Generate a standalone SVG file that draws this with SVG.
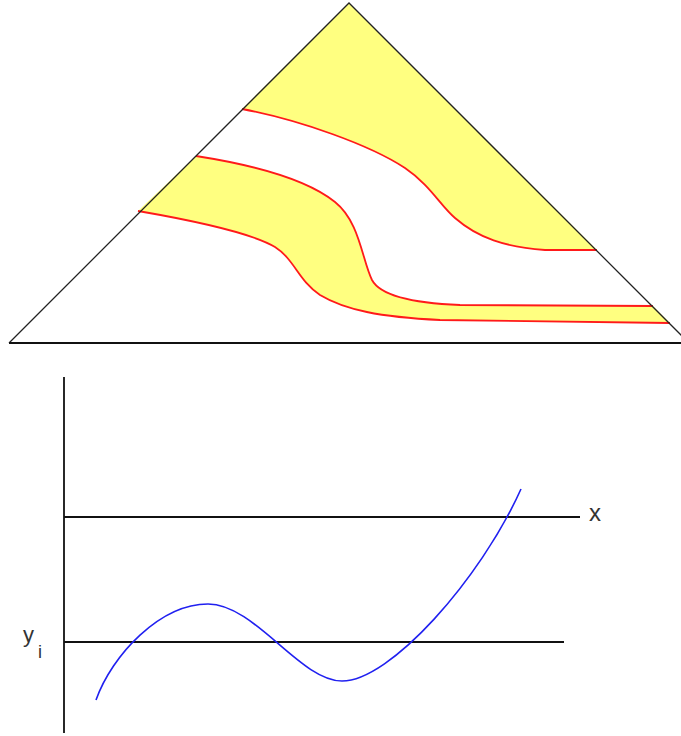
<svg xmlns="http://www.w3.org/2000/svg" width="681" height="736" viewBox="0 0 681 736">
<style>
.fill{fill:#FFFF80;stroke:none}
.red{fill:none;stroke:#FF1A1A;stroke-width:1.8}
.edge{fill:none;stroke:#222;stroke-width:1.3}
.axis{fill:none;stroke:#111;stroke-width:1.8}
.curve{fill:none;stroke:#2020F0;stroke-width:1.6}
.lbl{font-family:"Liberation Sans",Arial,sans-serif;fill:#333}
</style>
<rect width="681" height="736" fill="#fff"/>
<g id="ternary">
<path class="fill" d="M349,3 L242,109 C300,120 370,145 405,168 C430,185 440,205 455,218 C478,238 505,247 545,250 L597,250 Z"/>
<path class="fill" d="M138,211 C190,220 250,232 275,247 C295,260 298,280 320,295 C345,310 380,317 440,320 L670,323 L653,306 L460,305 C410,303 380,295 372,280 C362,260 360,222 335,202 C310,182 260,166 196,156 Z"/>
<path class="red" d="M242,109 C300,120 370,145 405,168 C430,185 440,205 455,218 C478,238 505,247 545,250 L597,250"/>
<path class="red" d="M196,156 C260,166 310,182 335,202 C360,222 362,260 372,280 C380,295 410,303 460,305 L653,306"/>
<path class="red" d="M138,211 C190,220 250,232 275,247 C295,260 298,280 320,295 C345,310 380,317 440,320 L670,323"/>
<path class="edge" d="M9,343 L349,3 L692,346"/>
<line class="axis" x1="9" y1="343" x2="681" y2="343"/>
</g>
<g id="plot">
<line class="axis" x1="64" y1="377" x2="64" y2="733"/>
<line class="axis" x1="64" y1="517" x2="580" y2="517"/>
<line class="axis" x1="64" y1="642" x2="564" y2="642"/>
<path class="curve" d="M96,700 C112,655 160,604 208,604 C255,604 300,681 342,681 C390,681 480,580 521,489"/>
<text class="lbl" x="589" y="521" font-size="24">x</text>
<text class="lbl" x="23" y="642" font-size="22">y</text>
<text class="lbl" x="38" y="658" font-size="18">i</text>
</g>
</svg>
